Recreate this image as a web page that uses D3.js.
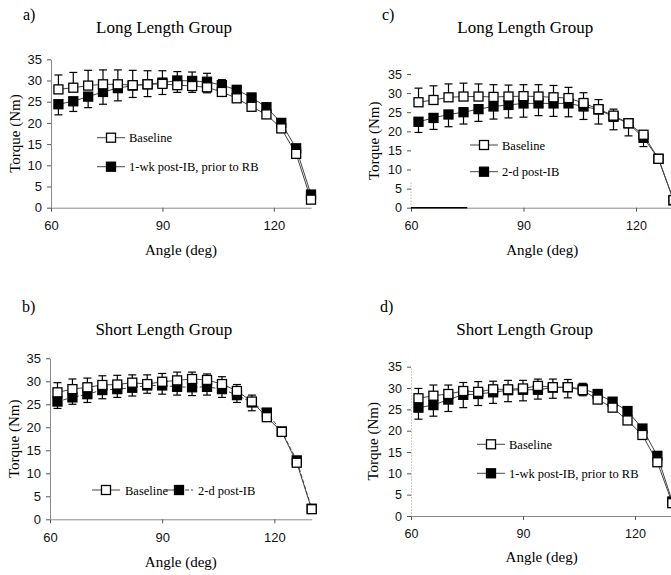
<!DOCTYPE html>
<html>
<head>
<meta charset="utf-8">
<script src="https://cdn.jsdelivr.net/npm/d3@7"></script>
<style>
  html, body { margin: 0; padding: 0; background: #fff; }
  svg { display: block; }
</style>
</head>
<body>
<svg id="chart" width="671" height="575"></svg>
<script>
// ---- Data ----
const angles = [62, 66, 70, 74, 78, 82, 86, 90, 94, 98, 102, 106, 110, 114, 118, 122, 126, 130];
const xTicks = [60, 90, 120];
const yTicks = [0, 5, 10, 15, 20, 25, 30, 35];

// Panel a) Long Length Group: Baseline vs 1-wk post-IB, prior to RB
const aBase    = [27.9, 28.3, 28.8, 29.1, 29.1, 28.9, 29.1, 29.2, 28.9, 28.7, 28.4, 27.3, 25.8, 23.8, 22.0, 18.7, 12.7, 1.9];
const aBaseErr = [3.4, 3.6, 3.6, 3.4, 3.4, 3.5, 3.2, 3.1, 3.2, 3.3, 3.3, 2.9, 0.8, 0.6, 0.6, 0.6, 0.5, 0.3];
const aPost    = [24.4, 25.1, 26.2, 27.3, 28.2, 28.8, 29.1, 29.5, 30.0, 29.9, 29.7, 28.9, 27.8, 26.0, 23.7, 20.0, 14.0, 3.1];
const aPostErr = [2.5, 2.4, 2.6, 2.9, 3.0, 2.8, 2.9, 2.8, 2.8, 2.7, 2.6, 2.1, 0.8, 0.7, 0.6, 0.6, 0.5, 0.3];

// Panel b) Short Length Group: Baseline vs 2-d post-IB
const bBase    = [27.6, 28.3, 28.7, 29.2, 29.3, 29.7, 29.4, 29.9, 30.2, 30.5, 30.3, 29.4, 27.9, 25.6, 22.2, 19.0, 12.3, 2.2];
const bBaseErr = [2.1, 2.2, 2.0, 2.0, 2.0, 1.7, 2.0, 1.8, 1.8, 1.5, 1.3, 1.6, 1.4, 1.4, 0.5, 0.5, 0.5, 0.2];
const bPost    = [25.6, 26.5, 27.2, 28.1, 28.3, 28.6, 29.1, 29.1, 28.8, 28.7, 28.8, 28.3, 27.0, 25.4, 23.2, 19.1, 12.8, 2.3];
const bPostErr = [1.5, 1.5, 1.8, 1.9, 1.8, 1.8, 1.7, 1.9, 1.8, 1.8, 1.8, 1.8, 1.6, 1.8, 0.5, 0.5, 0.5, 0.2];

// Panel c) Long Length Group: Baseline vs 2-d post-IB
const cBase    = [27.6, 28.2, 28.9, 29.1, 29.1, 29.0, 29.1, 29.2, 29.1, 28.9, 28.7, 27.4, 25.8, 24.1, 22.1, 19.1, 12.8, 2.0];
const cBaseErr = [3.7, 3.7, 3.5, 3.5, 3.3, 3.2, 3.0, 3.0, 3.1, 3.1, 2.8, 2.7, 2.5, 1.7, 1.1, 0.7, 0.5, 0.3];
const cPost    = [22.5, 23.5, 24.4, 25.0, 25.8, 26.5, 26.9, 27.3, 27.3, 27.3, 27.3, 26.5, 25.7, 23.8, 22.1, 18.3, 12.8, 1.9];
const cPostErr = [2.8, 3.0, 3.2, 3.1, 3.2, 3.3, 3.4, 3.6, 3.2, 3.4, 3.5, 3.4, 3.8, 3.4, 3.3, 2.3, 0.5, 0.3];

// Panel d) Short Length Group: Baseline vs 1-wk post-IB, prior to RB
const dBase    = [27.6, 28.2, 28.6, 29.3, 29.1, 29.7, 29.7, 29.9, 30.5, 30.2, 30.2, 29.5, 27.3, 25.4, 22.4, 19.0, 12.6, 3.0];
const dBaseErr = [2.3, 2.5, 2.1, 2.0, 2.4, 1.9, 2.1, 1.9, 1.6, 1.9, 1.8, 1.6, 0.8, 0.6, 0.5, 0.5, 0.4, 0.2];
const dPost    = [25.4, 26.0, 27.3, 28.4, 28.6, 29.0, 29.5, 29.6, 29.6, 30.1, 30.2, 29.8, 28.6, 26.8, 24.6, 20.5, 14.1, 3.4];
const dPostErr = [2.7, 2.6, 2.8, 3.0, 2.7, 2.6, 2.7, 2.6, 2.2, 2.5, 2.5, 1.6, 0.8, 0.7, 0.6, 0.5, 0.4, 0.2];

const baseName = "Baseline";
const postWk = "1-wk post-IB, prior to RB";
const post2d = "2-d post-IB";

// ---- Layout ----
const SERIF = "'Liberation Serif', 'Times New Roman', serif";
const SANS = "'Liberation Sans', Arial, sans-serif";

const panels = [
  { tag: "a)", title: "Long Length Group", base: aBase, baseErr: aBaseErr, post: aPost, postErr: aPostErr, postName: postWk,
    xr: [51, 311], yr: [207.7, 59.3], tagPos: [23, 20], titleY: 33, xLabY: 255, yLabX: 15, tickFont: 13,
    yAxisStyle: "solid", legend: { type: "stack", x0: 97, y0: 137.7, dy: 29 }, postDash: null },
  { tag: "b)", title: "Short Length Group", base: bBase, baseErr: bBaseErr, post: bPost, postErr: bPostErr, postName: post2d,
    xr: [50, 311.7], yr: [519.3, 358.3], tagPos: [22, 312], titleY: 335, xLabY: 567, yLabX: 14, tickFont: 13,
    yAxisStyle: "solid", legend: { type: "row", x0: 92, y0: 490, x1: 165 }, postDash: "4,2" },
  { tag: "c)", title: "Long Length Group", base: cBase, baseErr: cBaseErr, post: cPost, postErr: cPostErr, postName: post2d,
    xr: [411, 673.5], yr: [207.7, 74], tagPos: [382, 20], titleY: 33, xLabY: 255, yLabX: 374, tickFont: 12.5,
    yAxisStyle: "partial", legend: { type: "stack", x0: 470, y0: 145, dy: 26.7 }, postDash: null },
  { tag: "d)", title: "Short Length Group", base: dBase, baseErr: dBaseErr, post: dPost, postErr: dPostErr, postName: postWk,
    xr: [411, 672.3], yr: [516, 366.7], tagPos: [380, 312], titleY: 335, xLabY: 562, yLabX: 373, tickFont: 12.5,
    yAxisStyle: "dotted", legend: { type: "stack", x0: 477, y0: 444.3, dy: 29 }, postDash: null }
];

const svg = d3.select("#chart");
const MS = 9;          // marker size
const CAP = 8;         // error bar cap width
const LINE_COL = "#444";
const AXIS_COL = "#8a8a8a";

function marker(g, cx, cy, filled) {
  g.append("rect")
    .attr("x", cx - MS / 2).attr("y", cy - MS / 2)
    .attr("width", MS).attr("height", MS)
    .attr("fill", filled ? "#000" : "#fff")
    .attr("stroke", "#000").attr("stroke-width", 1.3);
}

panels.forEach(p => {
  const g = svg.append("g");
  const x = d3.scaleLinear().domain([60, 130]).range(p.xr);
  const y = d3.scaleLinear().domain([0, 35]).range(p.yr);
  const cx = (p.xr[0] + p.xr[1]) / 2;
  const cy = (p.yr[0] + p.yr[1]) / 2;

  // Panel tag and title
  g.append("text").attr("x", p.tagPos[0]).attr("y", p.tagPos[1])
    .attr("font-family", SERIF).attr("font-size", 16).text(p.tag);
  g.append("text").attr("x", cx - 17).attr("y", p.titleY)
    .attr("text-anchor", "middle").attr("font-family", SERIF).attr("font-size", 17).text(p.title);

  // Axes
  const xAxis = d3.axisBottom(x).tickValues(xTicks).tickSize(4).tickPadding(7).tickSizeOuter(0);
  const yAxis = d3.axisLeft(y).tickValues(yTicks).tickSize(4).tickPadding(5).tickSizeOuter(0);

  const gx = g.append("g").attr("transform", `translate(0,${p.yr[0]})`).call(xAxis);
  const gy = g.append("g").attr("transform", `translate(${p.xr[0]},0)`).call(yAxis);
  [gx, gy].forEach(ax => {
    ax.selectAll("text").attr("font-family", SANS).attr("font-size", p.tickFont).attr("fill", "#111");
    ax.selectAll(".tick line").attr("stroke", "#555");
    ax.select(".domain").attr("stroke", AXIS_COL);
  });
  gx.selectAll("text").attr("dy", "0.9em");
  if (p.yAxisStyle === "dotted") {
    gy.select(".domain").attr("stroke", "#999").attr("stroke-dasharray", "1,2");
  } else if (p.yAxisStyle === "partial") {
    gy.select(".domain").attr("stroke", "none");
    g.append("line").attr("x1", p.xr[0]).attr("x2", p.xr[0])
      .attr("y1", y(0)).attr("y2", y(7))
      .attr("stroke", "#999").attr("stroke-dasharray", "1,2");
    g.append("line").attr("x1", x(60)).attr("x2", x(75))
      .attr("y1", y(0)).attr("y2", y(0))
      .attr("stroke", "#000").attr("stroke-width", 1.6);
  }

  // Axis titles
  g.append("text").attr("x", cx).attr("y", p.xLabY)
    .attr("text-anchor", "middle").attr("font-family", SERIF).attr("font-size", 15).text("Angle (deg)");
  g.append("text").attr("transform", `translate(${p.yLabX},${cy}) rotate(-90)`)
    .attr("text-anchor", "middle").attr("dominant-baseline", "central")
    .attr("font-family", SERIF).attr("font-size", 15).text("Torque (Nm)");

  // Series lines
  const line = d3.line().x((d, i) => x(angles[i])).y(d => y(d));
  g.append("path").datum(p.post).attr("d", line).attr("fill", "none")
    .attr("stroke", LINE_COL).attr("stroke-width", 1)
    .attr("stroke-dasharray", p.postDash);
  g.append("path").datum(p.base).attr("d", line).attr("fill", "none")
    .attr("stroke", LINE_COL).attr("stroke-width", 1);

  // Error bars: baseline upward, post downward
  const eb = g.append("g").attr("stroke", "#000").attr("stroke-width", 1.2);
  p.base.forEach((v, i) => {
    const xx = x(angles[i]), y1 = y(v + p.baseErr[i]);
    eb.append("line").attr("x1", xx).attr("x2", xx).attr("y1", y(v)).attr("y2", y1);
    eb.append("line").attr("x1", xx - CAP / 2).attr("x2", xx + CAP / 2).attr("y1", y1).attr("y2", y1);
  });
  p.post.forEach((v, i) => {
    const xx = x(angles[i]), y1 = y(v - p.postErr[i]);
    eb.append("line").attr("x1", xx).attr("x2", xx).attr("y1", y(v)).attr("y2", y1);
    eb.append("line").attr("x1", xx - CAP / 2).attr("x2", xx + CAP / 2).attr("y1", y1).attr("y2", y1);
  });

  // Markers
  p.post.forEach((v, i) => marker(g, x(angles[i]), y(v), true));
  p.base.forEach((v, i) => marker(g, x(angles[i]), y(v), false));

  // Legend
  const L = p.legend;
  const items = [
    { name: baseName, filled: false, dash: null },
    { name: p.postName, filled: true, dash: p.postDash }
  ];
  items.forEach((it, k) => {
    let lx, ly;
    if (L.type === "stack") { lx = L.x0; ly = L.y0 + k * L.dy; }
    else { lx = k === 0 ? L.x0 : L.x1; ly = L.y0; }
    g.append("line").attr("x1", lx).attr("x2", lx + 14).attr("y1", ly).attr("y2", ly)
      .attr("stroke", LINE_COL).attr("stroke-width", 1);
    g.append("line").attr("x1", lx + 14).attr("x2", lx + 28).attr("y1", ly).attr("y2", ly)
      .attr("stroke", LINE_COL).attr("stroke-width", 1).attr("stroke-dasharray", it.dash);
    marker(g, lx + 14, ly, it.filled);
    g.append("text").attr("x", lx + (L.type === "row" ? 33 : 32)).attr("y", ly + 4.5)
      .attr("font-family", SERIF).attr("font-size", 12.5).text(it.name);
  });
});
</script>
</body>
</html>
